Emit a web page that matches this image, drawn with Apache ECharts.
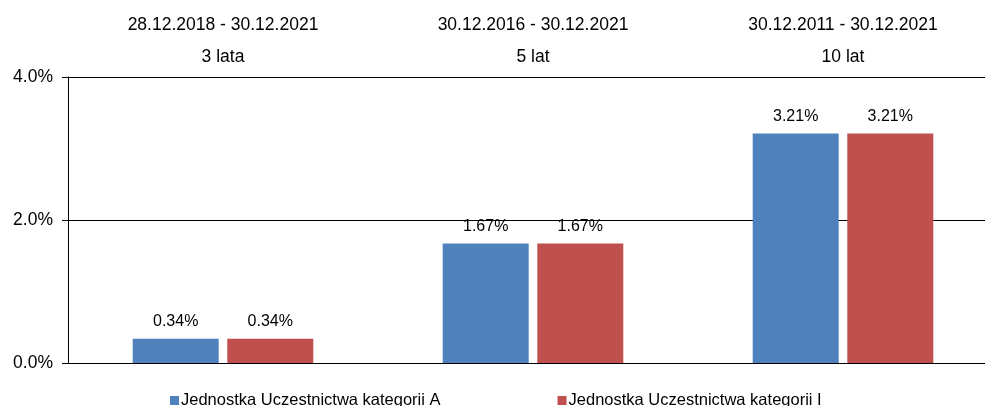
<!DOCTYPE html>
<html>
<head>
<meta charset="utf-8">
<script src="https://cdn.jsdelivr.net/npm/echarts@6/dist/echarts.min.js"></script>
<style>html,body{margin:0;padding:0;background:#fff;}#c{width:985px;height:406px;}</style>
</head>
<body>
<div id="c"></div>
<script>
const periods = ['28.12.2018 - 30.12.2021', '30.12.2016 - 30.12.2021', '30.12.2011 - 30.12.2021'];
const durations = ['3 lata', '5 lat', '10 lat'];
const seriesNames = ['Jednostka Uczestnictwa kategorii A', 'Jednostka Uczestnictwa kategorii I'];
const valuesA = [0.34, 1.67, 3.21];
const valuesI = [0.34, 1.67, 3.21];
const yTicks = [0, 2, 4];

const font = '"Liberation Sans", Arial, sans-serif';
const chart = echarts.init(document.getElementById('c'));
chart.setOption({
  animation: false,
  textStyle: { fontFamily: font },
  grid: { left: 68, top: 77, bottom: 43, width: 930, containLabel: false, outerBoundsMode: 'none' },
  legend: {
    left: 165, top: 387, itemWidth: 9, itemHeight: 9, itemGap: 117,
    icon: 'rect',
    textStyle: { fontSize: 16.5, color: '#000', fontFamily: font, padding: [0, 0, 0, -3] },
    data: seriesNames
  },
  xAxis: {
    type: 'category', position: 'top',
    data: periods.map((p, i) => p + '\n' + durations[i]),
    axisLine: { show: false }, axisTick: { show: false },
    axisLabel: {
      margin: 4, fontSize: 17.5, color: '#000', lineHeight: 32, fontFamily: font
    }
  },
  yAxis: {
    type: 'value', min: yTicks[0], max: yTicks[yTicks.length - 1], interval: 2,
    axisLine: { show: true, lineStyle: { color: '#000', width: 1 } },
    axisTick: { show: true, length: 6, lineStyle: { color: '#000' } },
    splitLine: { show: true, lineStyle: { color: '#000', width: 1 } },
    axisLabel: { fontSize: 17.5, color: '#000', margin: 15, fontFamily: font,
      formatter: v => v.toFixed(1) + '%' }
  },
  series: [
    { name: seriesNames[0], type: 'bar', data: valuesA, barWidth: 86, barGap: '10%',
      itemStyle: { color: '#4F81BD' },
      label: { show: true, position: 'top', distance: 9, fontSize: 16, color: '#000', fontFamily: font,
        formatter: p => p.value.toFixed(2) + '%' } },
    { name: seriesNames[1], type: 'bar', data: valuesI, barWidth: 86,
      itemStyle: { color: '#C0504D' },
      label: { show: true, position: 'top', distance: 9, fontSize: 16, color: '#000', fontFamily: font,
        formatter: p => p.value.toFixed(2) + '%' } }
  ]
});
</script>
</body>
</html>
